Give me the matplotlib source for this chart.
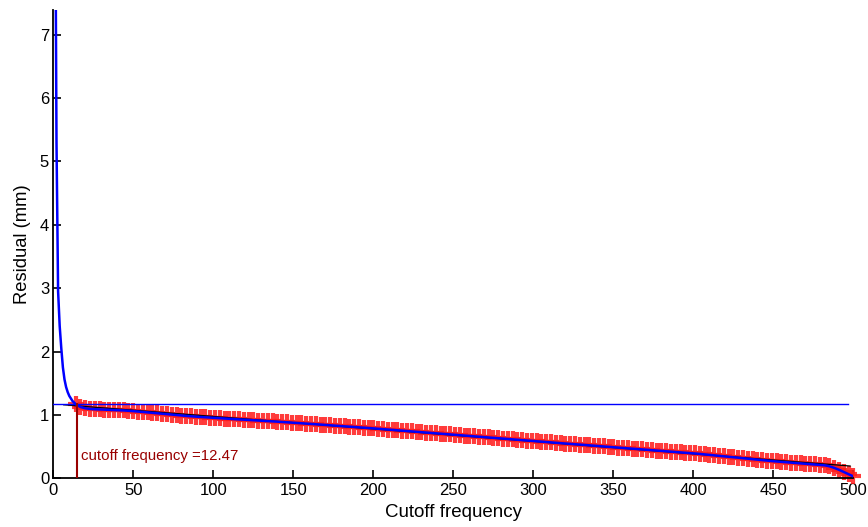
import numpy as np
import matplotlib
matplotlib.use("Agg")
import matplotlib.pyplot as plt

plt.rcParams['font.family'] = ['Liberation Sans', 'DejaVu Sans']

# ---- data ----
freq_head = [1, 2, 3, 4, 5, 6, 7, 8, 9, 10, 11, 12, 13]
residual_head = [10.5, 5.3, 2.95, 2.4, 2.05, 1.75, 1.56, 1.44, 1.36, 1.30, 1.26, 1.22, 1.195]

freq_tail = np.arange(14, 501, 3)
residual_tail = [
    1.170, 1.125, 1.105, 1.095, 1.090, 1.087, 1.084, 1.081, 1.078, 1.075,
    1.071, 1.066, 1.060, 1.054, 1.047, 1.040, 1.033, 1.026, 1.019, 1.012,
    1.005, 0.998, 0.991, 0.985, 0.979, 0.973, 0.968, 0.963, 0.958, 0.953,
    0.948, 0.943, 0.939, 0.934, 0.930, 0.925, 0.921, 0.916, 0.912, 0.907,
    0.903, 0.898, 0.894, 0.889, 0.885, 0.880, 0.875, 0.869, 0.864, 0.858,
    0.853, 0.848, 0.842, 0.837, 0.831, 0.826, 0.821, 0.815, 0.810, 0.804,
    0.799, 0.794, 0.788, 0.782, 0.776, 0.770, 0.764, 0.758, 0.752, 0.746,
    0.740, 0.734, 0.728, 0.722, 0.716, 0.710, 0.704, 0.698, 0.692, 0.686,
    0.680, 0.674, 0.668, 0.662, 0.656, 0.650, 0.644, 0.638, 0.632, 0.626,
    0.620, 0.614, 0.608, 0.602, 0.596, 0.590, 0.584, 0.578, 0.573, 0.567,
    0.561, 0.555, 0.549, 0.543, 0.538, 0.532, 0.526, 0.520, 0.514, 0.508,
    0.503, 0.497, 0.491, 0.485, 0.479, 0.473, 0.468, 0.462, 0.456, 0.450,
    0.444, 0.438, 0.433, 0.427, 0.421, 0.415, 0.409, 0.403, 0.398, 0.392,
    0.385, 0.377, 0.370, 0.362, 0.355, 0.347, 0.340, 0.332, 0.325, 0.317,
    0.310, 0.302, 0.295, 0.287, 0.280, 0.272, 0.266, 0.260, 0.254, 0.248,
    0.242, 0.236, 0.230, 0.224, 0.218, 0.212, 0.205, 0.190, 0.165, 0.135,
    0.100, 0.065, 0.030,
]

fit_x = [6.5, 498]
fit_y = [1.16, 0.194]

threshold_y = 1.167
threshold_x = [0, 496.5]
cutoff_x = 14.6
cutoff_label = "cutoff frequency =12.47"

x_ticks = [0, 50, 100, 150, 200, 250, 300, 350, 400, 450, 500]
y_ticks = [0, 1, 2, 3, 4, 5, 6, 7]

# ---- figure ----
fig = plt.figure(figsize=(8.68, 5.27), dpi=100)
ax = fig.add_axes([0.0614, 0.0924, 0.9217, 0.8886])

ax.plot(freq_tail, residual_tail, linestyle='none', marker='+', color='#ff1a1a',
        markersize=11, markeredgewidth=3.0, alpha=0.85, clip_on=False, zorder=2)

ax.plot(fit_x, fit_y, color='black', linewidth=0.9, zorder=2.5)

freq_all = list(freq_head) + list(freq_tail)
res_all = list(residual_head) + list(residual_tail)
ax.plot(freq_all, res_all, color='blue', linewidth=1.8, zorder=3)

ax.plot(threshold_x, [threshold_y, threshold_y], color='blue', linewidth=1.0, zorder=4)
ax.plot([cutoff_x, cutoff_x], [0, threshold_y], color='#990000', linewidth=1.5, zorder=4)

ax.text(17.5, 0.35, cutoff_label, color='#990000', fontsize=10.8,
        ha='left', va='center')

ax.set_xlim(0, 500)
ax.set_ylim(0, 7.39)
ax.set_xticks(x_ticks)
ax.set_yticks(y_ticks)
ax.spines['top'].set_visible(False)
ax.spines['right'].set_visible(False)
for s in ('left', 'bottom'):
    ax.spines[s].set_linewidth(1.3)
ax.tick_params(direction='in', length=5.8, width=1.2, labelsize=12)
ax.tick_params(axis='y', pad=3)
ax.tick_params(axis='x', pad=3.5)

ax.set_xlabel('Cutoff frequency', fontsize=13.5, labelpad=4)
ax.set_ylabel('Residual (mm)', fontsize=13.2, labelpad=6)

fig.savefig('out.png', dpi=100)
